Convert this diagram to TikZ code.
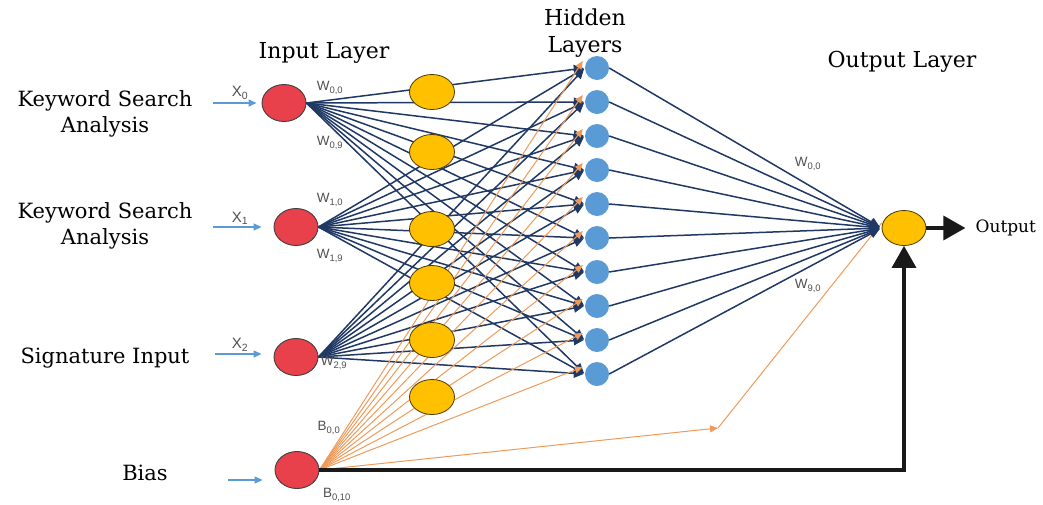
\documentclass[tikz,border=0pt]{standalone}
\usepackage{fontspec}
\setmainfont{DejaVu Serif}
\newfontfamily\wtfont{Liberation Sans}
\usetikzlibrary{shapes,arrows.meta,positioning}

\definecolor{navy}{HTML}{1F3864}
\definecolor{biasorange}{HTML}{EE9A5A}
\definecolor{redfill}{HTML}{E8414B}
\definecolor{yellowfill}{HTML}{FFC000}
\definecolor{hidblue}{HTML}{5B9BD5}
\definecolor{labgray}{HTML}{505050}

\begin{document}
\begin{tikzpicture}[
    x=1pt, y=-1pt,
    node distance=10pt,
    inputnode/.style={ellipse, draw=black!75, line width=0.9pt, fill=redfill, minimum width=44pt, minimum height=37pt, inner sep=0pt},
    midnode/.style={ellipse, draw=black!70!yellowfill, line width=0.8pt, fill=yellowfill, minimum width=45pt, minimum height=35pt, inner sep=0pt},
    hidnode/.style={circle, fill=hidblue, minimum size=24pt, inner sep=0pt},
    wire/.style={navy, line width=1.5pt, -{Triangle[length=10pt,width=9pt]}, shorten >=1pt},
    biaswire/.style={biasorange, line width=1pt, -{Triangle[length=8pt,width=7pt]}},
    feed/.style={hidblue, line width=1.3pt, -{Triangle[length=8pt,width=7pt]}},
    thickarrow/.style={black!90, line width=3.5pt, -{Triangle[length=22pt,width=24pt]}},
    title/.style={font=\fontsize{22}{27}\selectfont, align=center},
    sidetext/.style={font=\fontsize{21}{26}\selectfont, align=center},
    wlabel/.style={font=\wtfont\fontsize{13.5}{15}\selectfont, text=labgray, inner sep=0pt},
    xlabel/.style={font=\wtfont\fontsize{15}{17}\selectfont, text=labgray, inner sep=0pt}
]
    \useasboundingbox (0,0) rectangle (1043,504);

    % Input layer
    \node[inputnode] (in0) at (284,103) {};
    \node[inputnode] (in1) at (296,227) {};
    \node[inputnode] (in2) at (296,357) {};
    \node[inputnode] (bias) at (297,470) {};

    % Hidden layer
    \foreach \j in {0,...,9}
        \node[hidnode] (h\j) at (597,{68+34*\j}) {};

    % Output node
    \node[midnode, minimum width=44pt] (out) at (904,228) {};
    \node[title, font=\fontsize{17}{20}\selectfont, right=46pt of out, inner sep=3pt] (outtxt) {Output};

    % Titles
    \node[title] (intitle) at (324,53) {Input Layer};
    \node[title] (hidtitle) at (585,33) {Hidden\\Layers};
    \node[title] (outtitle) at (902,62) {Output Layer};

    % Side texts
    \node[sidetext] (t0) at (105,114) {Keyword Search\\Analysis};
    \node[sidetext] (t1) at (105,226) {Keyword Search\\Analysis};
    \node[sidetext] (t2) at (105,358) {Signature Input};
    \node[sidetext] (t3) at (145,473) {Bias};

    % Feeding arrows
    \coordinate (s0) at (213,103);
    \coordinate (s1) at (213,227);
    \coordinate (s2) at (215,354);
    \coordinate (s3) at (228,480);
    \draw[feed, shorten >=5pt] (s0) -- (in0.west);
    \draw[feed, shorten >=12pt] (s1) -- (in1.west);
    \draw[feed, shorten >=12pt] (s2) -- (in2.west |- s2);
    \draw[feed, shorten >=12pt] (s3) -- (bias.west |- s3);
    \node[xlabel] (x0) at (240,93) {X\textsubscript{0}};
    \node[xlabel] (x1) at (240,218) {X\textsubscript{1}};
    \node[xlabel] (x2) at (240,345) {X\textsubscript{2}};

    % Weights input -> hidden
    \foreach \i in {0,1,2}
        \foreach \j in {0,...,9}
            \draw[wire] (in\i.east) -- (h\j.west);

    % Bias -> hidden
    \foreach \j in {0,...,9}
        \draw[biaswire] (bias.east) -- ([xshift=-2pt,yshift=7pt]h\j.west);
    \coordinate (bend) at (718,428);
    \draw[biaswire] (bias.east) -- (bend);
    \draw[biaswire, -] (bend) -- ([yshift=5pt]out.west);

    % Hidden -> output
    \foreach \j in {0,...,9}
        \draw[wire, shorten >=2pt] (h\j.east) -- (out.west);

    % Bias to output and output arrow
    \draw[thickarrow] (bias.east) -| (out.south);
    \draw[thickarrow, shorten >=7pt] (out.east) -- (outtxt.west);

    % Middle nodes on top
    \foreach \y [count=\k] in {92,152,229,283,340,397}
        \node[midnode] (m\k) at (432,\y) {};

    % Weight labels
    \node[wlabel] (w00) at (330,88) {W\textsubscript{0,0}};
    \node[wlabel] (w09) at (330,143) {W\textsubscript{0,9}};
    \node[wlabel] (w10) at (330,200) {W\textsubscript{1,0}};
    \node[wlabel] (w19) at (330,256) {W\textsubscript{1,9}};
    \node[wlabel] (w29) at (334,363) {W\textsubscript{2,9}};
    \node[wlabel] (b00) at (329,428) {B\textsubscript{0,0}};
    \node[wlabel] (b010) at (337,495) {B\textsubscript{0,10}};
    \node[wlabel] (v00) at (808,164) {W\textsubscript{0,0}};
    \node[wlabel] (v90) at (808,286) {W\textsubscript{9,0}};
\end{tikzpicture}
\end{document}
